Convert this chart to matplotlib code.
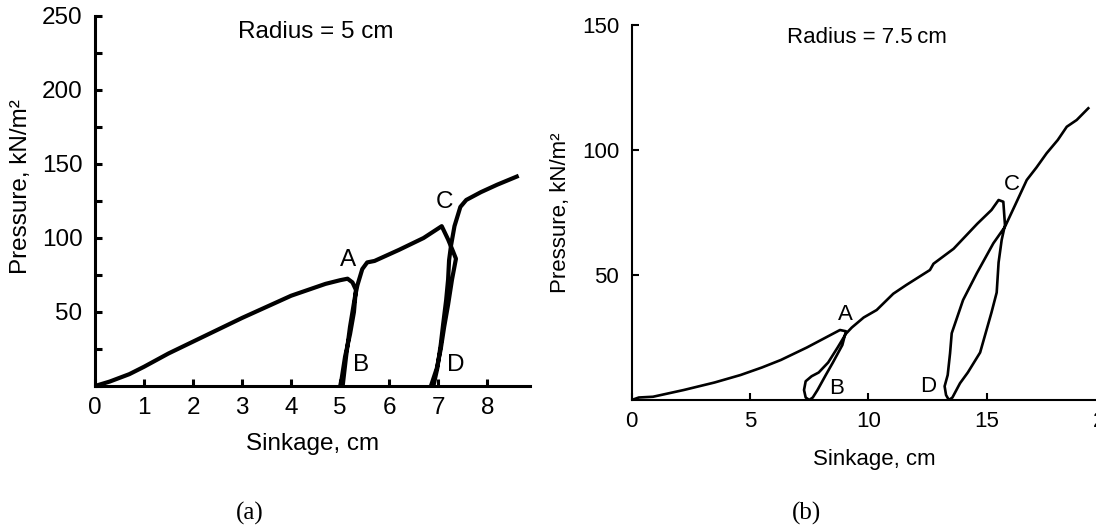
import matplotlib
matplotlib.use("Agg")
import matplotlib.pyplot as plt
from matplotlib.ticker import MultipleLocator

plt.rcParams['font.family'] = ['Liberation Sans', 'DejaVu Sans']

# plate radius 5 cm: load -> A, unload -> B, reload -> C, unload -> D, reload
sink_a = [0, 0.3, 0.7, 1.0, 1.5, 2.0, 3.0, 4.0, 4.7, 5.0, 5.15, 5.25, 5.32,
          5.28, 5.2, 5.1, 5.03, 5.0,
          5.05, 5.12, 5.2, 5.3, 5.35, 5.45, 5.55, 5.7, 6.2, 6.7, 7.07,
          7.2, 7.3, 7.36, 7.28, 7.2, 7.12, 7.05, 6.97, 6.88, 6.85,
          6.9, 6.98, 7.05, 7.1, 7.16, 7.2, 7.22, 7.26, 7.33, 7.45, 7.57, 7.87, 8.2, 8.6]
pres_a = [0, 3, 8, 13, 22, 30, 46, 61, 69, 71.5, 72.5, 70, 65,
          50, 35, 20, 5, 0,
          0, 20, 40, 60, 68, 79, 83.5, 84.5, 92, 100, 108,
          99, 91, 86, 72, 55, 40, 25, 12, 3, 0,
          0, 12, 28, 42, 58, 72, 85, 95, 108, 121, 125.7, 131, 136, 141.5]

# plate radius 7.5 cm
sink_b = [0, 0.3, 0.9, 2.2, 3.5, 4.6, 5.5, 6.3, 7.4, 8.2, 8.8, 9.05,
          8.9, 8.5, 8.2, 7.85, 7.65, 7.5,
          7.35, 7.28, 7.35, 7.6, 7.9, 8.3, 8.7, 9.05, 9.3,
          9.8, 10.35, 11.05, 11.6, 12.6, 12.75, 13.6, 14.6, 15.2, 15.5, 15.7,
          15.77, 15.63, 15.5, 15.42, 15.2, 14.72, 14.2, 13.87, 13.55, 13.4,
          13.28, 13.22, 13.35, 13.45, 13.52, 14.0, 14.58, 15.28, 15.77, 16.2,
          16.69, 17.1, 17.53, 18.0, 18.38, 18.8, 19.29]
pres_b = [0, 1, 1.3, 4, 7, 10, 13, 16, 21, 25, 28, 27.5,
          22, 15, 10, 4, 1, 0,
          1, 4, 7.5, 9.5, 11, 15, 21, 26.5, 29,
          33, 36, 42.5, 46, 52, 54.5, 60.5, 70.5, 76, 80, 79.3,
          70, 64, 55, 43, 35, 19, 11, 6.7, 1, 0,
          2, 5.5, 10, 18.7, 26.7, 40, 50.7, 62.7, 69.3, 78,
          88, 93, 98.7, 104, 109.3, 112, 116.7]

fig = plt.figure(figsize=(10.96, 5.28), dpi=100)
W, H = 1096, 528

def style(ax, lw, fs):
    for s in ['top', 'right']:
        ax.spines[s].set_visible(False)
    for s in ['left', 'bottom']:
        ax.spines[s].set_linewidth(lw)
    ax.tick_params(which='both', direction='in', labelsize=fs, width=lw, length=5)
    ax.tick_params(axis='y', pad=9)
    ax.tick_params(axis='x', pad=8)

# (a)
fs_a = 17.5
ax1 = fig.add_axes([95 / W, 1 - 386 / H, (530 - 95) / W, (386 - 16) / H])
ax1.plot(sink_a, pres_a, color='black', lw=3.0, solid_joinstyle='round')
ax1.set_xlim(0, 8.87)
ax1.set_ylim(0, 250)
ax1.set_xticks(range(0, 9))
ax1.set_yticks([50, 100, 150, 200, 250])
ax1.yaxis.set_minor_locator(MultipleLocator(25))
style(ax1, 2.2, fs_a)
ax1.set_xlabel('Sinkage, cm', fontsize=fs_a, labelpad=10)
ax1.set_ylabel('Pressure, kN/m²', fontsize=fs_a)
ax1.yaxis.set_label_coords(-0.145, 0.54)
ax1.text(4.5, 239, 'Radius = 5 cm', fontsize=fs_a, ha='center', va='center')
for lab, x, y in [('A', 5.15, 85), ('B', 5.42, 14), ('C', 7.12, 124.5), ('D', 7.36, 14)]:
    ax1.text(x, y, lab, fontsize=fs_a, ha='center', va='center')

# (b)
fs_b = 16
ax2 = fig.add_axes([631.7 / W, 1 - 400 / H, 20.5 * 23.67 / W, (400 - 25) / H])
ax2.plot(sink_b, pres_b, color='black', lw=1.9, solid_joinstyle='round')
ax2.set_xlim(0, 20.5)
ax2.set_ylim(0, 150)
ax2.set_xticks([0, 5, 10, 15, 20])
ax2.set_yticks([50, 100, 150])
style(ax2, 1.5, fs_b)
ax2.set_xlabel('Sinkage, cm', fontsize=fs_b, labelpad=12)
ax2.set_ylabel('Pressure, kN/m²', fontsize=fs_b)
ax2.yaxis.set_label_coords(-0.125, 0.5)
ax2.text(9.93, 145, 'Radius = 7.5\u2009cm', fontsize=fs_b, ha='center', va='center')
for lab, x, y in [('A', 9.01, 34), ('B', 8.66, 4.7), ('C', 16.05, 86), ('D', 12.53, 5.3)]:
    ax2.text(x, y, lab, fontsize=fs_b, ha='center', va='center')

fig.text(250 / W, 1 - 513 / H, '(a)', fontsize=18, family=['Liberation Serif', 'DejaVu Serif'],
         ha='center', va='center')
fig.text(807 / W, 1 - 513 / H, '(b)', fontsize=18, family=['Liberation Serif', 'DejaVu Serif'],
         ha='center', va='center')

fig.savefig('out.png', dpi=100)
